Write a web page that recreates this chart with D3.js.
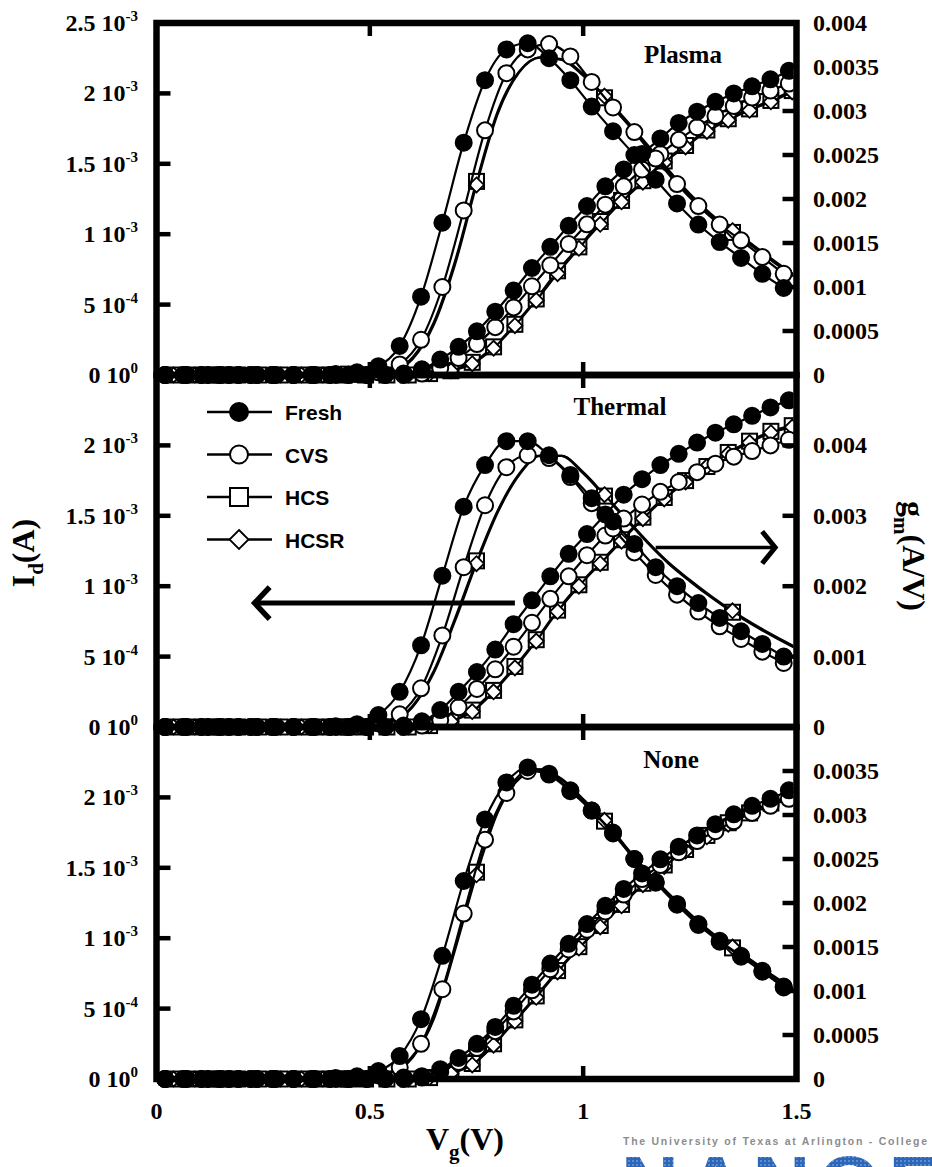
<!DOCTYPE html>
<html>
<head>
<meta charset="utf-8">
<script src="https://cdn.jsdelivr.net/npm/d3@7"></script>
<style>
body { margin: 0; background: #fff; }
svg { display: block; }
</style>
</head>
<body>
<script>
// gate voltage grids (V)
var vgGm    = [0.02,0.07,0.12,0.17,0.22,0.27,0.32,0.37,0.42,0.47,0.52,0.57,0.62,0.67,0.72,0.77,0.82,0.87,0.92,0.97,1.02,1.07,1.12,1.17,1.22,1.27,1.32,1.37,1.42,1.47];
var vgGmHcs = [0,0.05,0.1,0.15,0.2,0.25,0.3,0.35,0.4,0.45,0.5,0.55,0.6,0.65,0.7,0.75,0.8,0.85,0.9,0.95,1.0,1.05,1.1,1.15,1.2,1.25,1.3,1.35,1.4,1.45,1.5];
var vgId    = [0.020,0.063,0.106,0.149,0.192,0.235,0.278,0.321,0.364,0.407,0.450,0.493,0.536,0.579,0.622,0.665,0.708,0.751,0.794,0.837,0.880,0.923,0.966,1.009,1.052,1.095,1.138,1.181,1.224,1.267,1.310,1.353,1.396,1.439,1.482];
var vgIdHcs = [0.04,0.09,0.14,0.19,0.24,0.29,0.34,0.39,0.44,0.49,0.54,0.59,0.64,0.69,0.74,0.79,0.84,0.89,0.94,0.99,1.04,1.09,1.14,1.19,1.24,1.29,1.34,1.39,1.44,1.49];

// Plasma (gm in mA/V, Id in mA)
var plasmaGmFresh = [0,0,0,0,0,0,0,0,0.01,0.03, 0.10,0.33,0.89,1.73,2.64,3.35,3.70,3.77,3.60,3.35, 3.05,2.77,2.50,2.22,1.95,1.71,1.51,1.33,1.15,0.99];
var plasmaGmCvs   = [0,0,0,0,0,0,0,0,0,0.01, 0.03,0.12,0.40,1.00,1.87,2.78,3.43,3.70,3.76,3.62, 3.33,3.04,2.76,2.46,2.17,1.92,1.71,1.53,1.34,1.15];
var plasmaGmHcs   = [0,0,0,0,0,0,0,0,0,0.01, 0.01,0.05,0.20,0.60,1.30,2.20,3.00,3.45,3.61,3.58, 3.40,3.15,2.88,2.60,2.31,2.04,1.81,1.62,1.45,1.27, 1.10];
var plasmaGmHcsr  = [0,0,0,0,0,0,0,0,0,0.01, 0.01,0.04,0.18,0.57,1.26,2.16,2.97,3.44,3.61,3.59, 3.42,3.17,2.90,2.62,2.33,2.06,1.83,1.64,1.47,1.29, 1.12];
var plasmaIdFresh = [0,0,0,0,0,0,0,0,0,0, 0,0,0,0.01,0.04,0.11,0.20,0.31,0.45,0.60, 0.76,0.91,1.06,1.20,1.34,1.46,1.57,1.68,1.79,1.87, 1.94,2.00,2.05,2.10,2.16];
var plasmaIdCvs   = [0,0,0,0,0,0,0,0,0,0, 0,0,0,0,0.01,0.05,0.12,0.22,0.34,0.48, 0.63,0.78,0.93,1.07,1.21,1.34,1.46,1.57,1.67,1.76, 1.84,1.91,1.97,2.02,2.07];
var plasmaIdHcs   = [0,0,0,0,0,0,0,0,0,0, 0,0,0.01,0.03,0.09,0.20,0.36,0.54,0.74,0.91, 1.09,1.24,1.38,1.52,1.63,1.74,1.82,1.89,1.95,2.02];
var plasmaIdHcsr  = [0,0,0,0,0,0,0,0,0,0, 0,0,0.01,0.03,0.08,0.19,0.35,0.53,0.72,0.90, 1.07,1.23,1.37,1.51,1.62,1.73,1.81,1.88,1.94,2.01];

// Thermal
var thermalGmFresh = [0,0,0,0,0,0,0,0,0.01,0.04, 0.17,0.50,1.16,2.15,3.13,3.72,4.06,4.06,3.86,3.58, 3.25,2.92,2.60,2.27,2.00,1.76,1.55,1.36,1.18,1.00];
var thermalGmCvs   = [0,0,0,0,0,0,0,0,0,0.01, 0.05,0.18,0.55,1.30,2.27,3.15,3.69,3.86,3.82,3.55, 3.18,2.82,2.48,2.16,1.88,1.64,1.43,1.25,1.07,0.91];
var thermalGmHcs   = [0,0,0,0,0,0,0,0,0,0, 0.02,0.08,0.30,0.80,1.55,2.36,3.08,3.60,3.86,3.85, 3.60,3.28,2.95,2.62,2.32,2.07,1.84,1.63,1.44,1.27, 1.11];
var thermalGmHcsr  = [0,0,0,0,0,0,0,0,0,0, 0.02,0.07,0.28,0.77,1.51,2.32,3.05,3.58,3.85,3.85, 3.62,3.30,2.97,2.64,2.34,2.09,1.86,1.65,1.46,1.29, 1.13];
var thermalIdFresh = [0,0,0,0,0,0,0,0,0,0, 0,0,0,0.01,0.04,0.12,0.25,0.39,0.55,0.73, 0.90,1.07,1.23,1.37,1.51,1.65,1.76,1.86,1.94,2.02, 2.09,2.15,2.21,2.27,2.32];
var thermalIdCvs   = [0,0,0,0,0,0,0,0,0,0, 0,0,0,0,0.01,0.05,0.14,0.27,0.41,0.57, 0.74,0.91,1.07,1.22,1.36,1.48,1.58,1.67,1.74,1.81, 1.87,1.92,1.96,2.00,2.04];
var thermalIdHcs   = [0,0,0,0,0,0,0,0,0,0, 0,0,0.01,0.04,0.12,0.26,0.43,0.62,0.83,1.01, 1.17,1.33,1.49,1.63,1.75,1.85,1.95,2.03,2.10,2.14];
var thermalIdHcsr  = [0,0,0,0,0,0,0,0,0,0, 0,0,0.01,0.04,0.11,0.25,0.42,0.61,0.82,1.00, 1.16,1.32,1.48,1.62,1.74,1.85,1.94,2.02,2.09,2.13];

// None
var noneGmFresh = [0,0,0,0,0,0,0,0,0.01,0.03, 0.09,0.26,0.68,1.40,2.25,2.95,3.37,3.54,3.46,3.27, 3.05,2.80,2.50,2.24,1.99,1.76,1.57,1.40,1.23,1.05];
var noneGmCvs   = [0,0,0,0,0,0,0,0,0,0.01, 0.04,0.13,0.40,1.02,1.88,2.72,3.25,3.50,3.47,3.28, 3.05,2.79,2.50,2.23,1.98,1.75,1.56,1.39,1.22,1.04];
var noneGmHcs   = [0,0,0,0,0,0,0,0,0,0, 0.02,0.08,0.25,0.70,1.50,2.35,3.05,3.42,3.52,3.40, 3.17,2.93,2.63,2.35,2.10,1.87,1.66,1.49,1.32,1.15, 0.99];
var noneGmHcsr  = [0,0,0,0,0,0,0,0,0,0, 0.02,0.07,0.24,0.68,1.47,2.32,3.03,3.41,3.52,3.41, 3.18,2.94,2.64,2.36,2.11,1.88,1.67,1.50,1.33,1.16, 1.00];
var noneIdFresh = [0,0,0,0,0,0,0,0,0,0, 0,0,0,0.01,0.02,0.07,0.15,0.25,0.37,0.52, 0.67,0.82,0.96,1.10,1.23,1.35,1.46,1.56,1.65,1.73, 1.81,1.88,1.94,1.99,2.05];
var noneIdCvs   = [0,0,0,0,0,0,0,0,0,0, 0,0,0,0,0.01,0.05,0.12,0.22,0.34,0.48, 0.63,0.78,0.92,1.06,1.19,1.31,1.42,1.52,1.61,1.69, 1.76,1.83,1.89,1.94,1.99];
var noneIdHcs   = [0,0,0,0,0,0,0,0,0,0, 0,0,0.01,0.04,0.11,0.25,0.42,0.59,0.77,0.94, 1.09,1.24,1.39,1.52,1.63,1.73,1.82,1.89,1.96,2.01];
var noneIdHcsr  = [0,0,0,0,0,0,0,0,0,0, 0,0,0.01,0.04,0.10,0.24,0.41,0.58,0.76,0.93, 1.08,1.23,1.38,1.51,1.62,1.72,1.81,1.89,1.95,2.00];

// ticks
var xTicks = [0, 0.5, 1, 1.5];
var idTicks = [0, 5e-4, 1e-3, 1.5e-3, 2e-3, 2.5e-3];
var idTickMant = ["0", "5", "1", "1.5", "2", "2.5"];
var idTickExp = ["0", "-4", "-3", "-3", "-3", "-3"];
var gmTicksPlasma = [0, 0.0005, 0.001, 0.0015, 0.002, 0.0025, 0.003, 0.0035, 0.004];
var gmTicksThermal = [0, 0.001, 0.002, 0.003, 0.004];
var gmTicksNone = [0, 0.0005, 0.001, 0.0015, 0.002, 0.0025, 0.003, 0.0035];
var legendNames = ["Fresh", "CVS", "HCS", "HCSR"];

var W = 932, H = 1167;
var left = 156.5, right = 796.5, panelH = 352;
var serif = "'Liberation Serif','Times New Roman',serif";
var sans = "'Liberation Sans',Arial,sans-serif";

var svg = d3.select("body").append("svg")
    .attr("width", W)
    .attr("height", H);

var x = d3.scaleLinear().domain([0, 1.5]).range([left, right]);

var panels = [
    {name: "Plasma", top: 23, gmMax: 0.004, gmTicks: gmTicksPlasma, nId: 6, lx: 683, ly: 63,
     gm: [plasmaGmFresh, plasmaGmCvs, plasmaGmHcs, plasmaGmHcsr],
     id: [plasmaIdFresh, plasmaIdCvs, plasmaIdHcs, plasmaIdHcsr]},
    {name: "Thermal", top: 375, gmMax: 0.005, gmTicks: gmTicksThermal, nId: 5, lx: 620, ly: 415,
     gm: [thermalGmFresh, thermalGmCvs, thermalGmHcs, thermalGmHcsr],
     id: [thermalIdFresh, thermalIdCvs, thermalIdHcs, thermalIdHcsr]},
    {name: "None", top: 727, gmMax: 0.004, gmTicks: gmTicksNone, nId: 5, lx: 671, ly: 768,
     gm: [noneGmFresh, noneGmCvs, noneGmHcs, noneGmHcsr],
     id: [noneIdFresh, noneIdCvs, noneIdHcs, noneIdHcsr]}
];

function drawMarkers(g, pts, type, size) {
    if (type === "filled" || type === "open") {
        g.selectAll(null).data(pts).enter().append("circle")
            .attr("cx", function(d) { return d.px; })
            .attr("cy", function(d) { return d.py; })
            .attr("r", size)
            .attr("fill", type === "filled" ? "#000" : "#fff")
            .attr("stroke", "#000")
            .attr("stroke-width", 2);
    } else if (type === "square") {
        g.selectAll(null).data(pts).enter().append("rect")
            .attr("x", function(d) { return d.px - size; })
            .attr("y", function(d) { return d.py - size; })
            .attr("width", size * 2)
            .attr("height", size * 2)
            .attr("fill", "#fff")
            .attr("stroke", "#000")
            .attr("stroke-width", 2);
    } else {
        g.selectAll(null).data(pts).enter().append("path")
            .attr("d", function(d) {
                return "M" + d.px + "," + (d.py - size) + "L" + (d.px + size) + "," + d.py +
                    "L" + d.px + "," + (d.py + size) + "L" + (d.px - size) + "," + d.py + "Z";
            })
            .attr("fill", "#fff")
            .attr("stroke", "#000")
            .attr("stroke-width", 1.8);
    }
}

panels.forEach(function(p, pi) {
    var bottom = p.top + panelH;
    var yId = d3.scaleLinear().domain([0, 2.5e-3]).range([bottom, p.top]);
    var yGm = d3.scaleLinear().domain([0, p.gmMax]).range([bottom, p.top]);

    svg.append("clipPath").attr("id", "clip" + pi)
        .append("rect")
        .attr("x", left).attr("y", p.top - 20)
        .attr("width", right - left - 3).attr("height", panelH + 40);

    var g = svg.append("g").attr("clip-path", "url(#clip" + pi + ")");

    // drawing order: HCS, HCSR, CVS, Fresh (Fresh ends on top)
    var series = [
        {vg: vgIdHcs, vals: p.id[2], y: yId, m: "square", s: 7.5, every: 1, off: 0},
        {vg: vgIdHcs, vals: p.id[3], y: yId, m: "diamond", s: 7.5, every: 1, off: 0},
        {vg: vgGmHcs, vals: p.gm[2], y: yGm, m: "square", s: 7.5, every: 6, off: 3},
        {vg: vgGmHcs, vals: p.gm[3], y: yGm, m: "diamond", s: 7.5, every: 6, off: 3},
        {vg: vgId, vals: p.id[1], y: yId, m: "open", s: 8, every: 1, off: 0},
        {vg: vgGm, vals: p.gm[1], y: yGm, m: "open", s: 8, every: 1, off: 0},
        {vg: vgId, vals: p.id[0], y: yId, m: "filled", s: 8, every: 1, off: 0},
        {vg: vgGm, vals: p.gm[0], y: yGm, m: "filled", s: 8, every: 1, off: 0}
    ];

    series.forEach(function(s) {
        var pts = s.vg.map(function(v, i) {
            return {px: x(v), py: s.y(s.vals[i] * 1e-3), i: i};
        });
        var line = d3.line()
            .x(function(d) { return d.px; })
            .y(function(d) { return d.py; })
            .curve(d3.curveMonotoneX);
        g.append("path")
            .attr("d", line(pts))
            .attr("fill", "none")
            .attr("stroke", "#000")
            .attr("stroke-width", 2.2);
        drawMarkers(g, pts.filter(function(d) { return d.i % s.every === s.off; }), s.m, s.s);
    });

    // frame
    svg.append("rect")
        .attr("x", left).attr("y", p.top)
        .attr("width", right - left).attr("height", panelH)
        .attr("fill", "none")
        .attr("stroke", "#000")
        .attr("stroke-width", 6.5);

    // left ticks + labels
    var lt = idTicks.slice(0, p.nId);
    svg.selectAll(null).data(lt.filter(function(d) { return d > 0 && d < 2.5e-3; })).enter()
        .append("line")
        .attr("x1", left).attr("x2", left + 14)
        .attr("y1", function(d) { return yId(d); })
        .attr("y2", function(d) { return yId(d); })
        .attr("stroke", "#000").attr("stroke-width", 4.5);
    lt.forEach(function(d, i) {
        var t = svg.append("text")
            .attr("x", 138)
            .attr("y", yId(d) + 8)
            .attr("text-anchor", "end")
            .attr("font-family", serif)
            .attr("font-weight", "bold")
            .attr("font-size", 24);
        t.append("tspan").text(idTickMant[i] + " 10");
        t.append("tspan").attr("dy", -10).attr("font-size", 15).text(idTickExp[i]);
    });

    // right ticks + labels
    svg.selectAll(null).data(p.gmTicks.filter(function(d) { return d > 0 && d < p.gmMax - 1e-9; })).enter()
        .append("line")
        .attr("x1", right - 14).attr("x2", right)
        .attr("y1", function(d) { return yGm(d); })
        .attr("y2", function(d) { return yGm(d); })
        .attr("stroke", "#000").attr("stroke-width", 4.5);
    svg.selectAll(null).data(p.gmTicks).enter()
        .append("text")
        .attr("x", 813)
        .attr("y", function(d) { return yGm(d) + 8; })
        .attr("font-family", serif)
        .attr("font-weight", "bold")
        .attr("font-size", 24)
        .text(function(d) { return d3.format("~g")(d); });

    // x ticks on top and bottom edges of each panel
    svg.selectAll(null).data(xTicks.slice(1, 3)).enter()
        .append("line")
        .attr("x1", function(d) { return x(d); }).attr("x2", function(d) { return x(d); })
        .attr("y1", p.top).attr("y2", p.top + 13)
        .attr("stroke", "#000").attr("stroke-width", 4.5);
    svg.selectAll(null).data(xTicks.slice(1, 3)).enter()
        .append("line")
        .attr("x1", function(d) { return x(d); }).attr("x2", function(d) { return x(d); })
        .attr("y1", bottom - 13).attr("y2", bottom)
        .attr("stroke", "#000").attr("stroke-width", 4.5);

    // panel label
    svg.append("text")
        .attr("x", p.lx).attr("y", p.ly)
        .attr("text-anchor", "middle")
        .attr("font-family", serif)
        .attr("font-weight", "bold")
        .attr("font-size", 25)
        .text(p.name);

    if (p.name === "Thermal") {
        // arrows pointing to the axes
        var la = {from: 0.84, to: 0.23, y: yId(0.88e-3)};
        svg.append("line")
            .attr("x1", x(la.from)).attr("x2", x(la.to) + 2)
            .attr("y1", la.y).attr("y2", la.y)
            .attr("stroke", "#000").attr("stroke-width", 5);
        svg.append("path")
            .attr("d", "M" + (x(la.to) + 15) + "," + (la.y - 16) + "L" + x(la.to) + "," + la.y +
                "L" + (x(la.to) + 15) + "," + (la.y + 16))
            .attr("fill", "none").attr("stroke", "#000").attr("stroke-width", 5.5);
        var ra = {from: 1.17, to: 1.45, y: yGm(2.55e-3)};
        svg.append("line")
            .attr("x1", x(ra.from)).attr("x2", x(ra.to) - 2)
            .attr("y1", ra.y).attr("y2", ra.y)
            .attr("stroke", "#000").attr("stroke-width", 3.5);
        svg.append("path")
            .attr("d", "M" + (x(ra.to) - 13) + "," + (ra.y - 16) + "L" + x(ra.to) + "," + ra.y +
                "L" + (x(ra.to) - 13) + "," + (ra.y + 16))
            .attr("fill", "none").attr("stroke", "#000").attr("stroke-width", 5);

        // legend
        var types = ["filled", "open", "square", "diamond"];
        legendNames.forEach(function(name, i) {
            var ly = 412 + i * 42.5;
            svg.append("line")
                .attr("x1", 207).attr("x2", 272)
                .attr("y1", ly).attr("y2", ly)
                .attr("stroke", "#000").attr("stroke-width", 2.5);
            drawMarkers(svg, [{px: 239, py: ly}], types[i], types[i] === "diamond" ? 9.5 : 9);
            svg.append("text")
                .attr("x", 285).attr("y", ly + 8)
                .attr("font-family", sans)
                .attr("font-weight", "bold")
                .attr("font-size", 21)
                .text(name);
        });
    }
});

// x tick labels
svg.selectAll(null).data(xTicks).enter()
    .append("text")
    .attr("x", function(d) { return x(d); })
    .attr("y", 1119)
    .attr("text-anchor", "middle")
    .attr("font-family", serif)
    .attr("font-weight", "bold")
    .attr("font-size", 24)
    .text(function(d) { return String(d); });

// axis titles
var tx = svg.append("text")
    .attr("text-anchor", "middle")
    .attr("transform", "translate(465,1150)")
    .attr("font-family", serif).attr("font-weight", "bold").attr("font-size", 32);
tx.append("tspan").text("V");
tx.append("tspan").attr("dy", 9).attr("font-size", 21).text("g");
tx.append("tspan").attr("dy", -9).text("(V)");

var tyl = svg.append("text")
    .attr("text-anchor", "middle")
    .attr("transform", "translate(34,553) rotate(-90)")
    .attr("font-family", serif).attr("font-weight", "bold").attr("font-size", 32);
tyl.append("tspan").text("I");
tyl.append("tspan").attr("dy", 9).attr("font-size", 21).text("d");
tyl.append("tspan").attr("dy", -9).text("(A)");

var tyr = svg.append("text")
    .attr("text-anchor", "middle")
    .attr("transform", "translate(903,556) rotate(90)")
    .attr("font-family", serif).attr("font-weight", "bold").attr("font-size", 32);
tyr.append("tspan").text("g");
tyr.append("tspan").attr("dy", 9).attr("font-size", 21).text("m");
tyr.append("tspan").attr("dy", -9).text("(A/V)");

// logo at the bottom right
var pat = svg.append("defs").append("pattern")
    .attr("id", "dots").attr("width", 4).attr("height", 4)
    .attr("patternUnits", "userSpaceOnUse");
pat.append("rect").attr("width", 4).attr("height", 4).attr("fill", "#2c66b8");
pat.append("circle").attr("cx", 1).attr("cy", 1).attr("r", 0.8).attr("fill", "#9fbde6");

svg.append("text")
    .attr("x", 623).attr("y", 1145)
    .attr("font-family", sans)
    .attr("font-weight", "bold")
    .attr("font-size", 10.5)
    .attr("textLength", 304)
    .attr("lengthAdjust", "spacing")
    .attr("fill", "#8c8c8c")
    .text("The University of Texas at Arlington - College");

svg.append("text")
    .attr("x", 621).attr("y", 1212)
    .attr("font-family", sans)
    .attr("font-weight", "bold")
    .attr("font-size", 80)
    .attr("letter-spacing", 8)
    .attr("fill", "url(#dots)")
    .text("NANOFAB");
</script>
</body>
</html>
